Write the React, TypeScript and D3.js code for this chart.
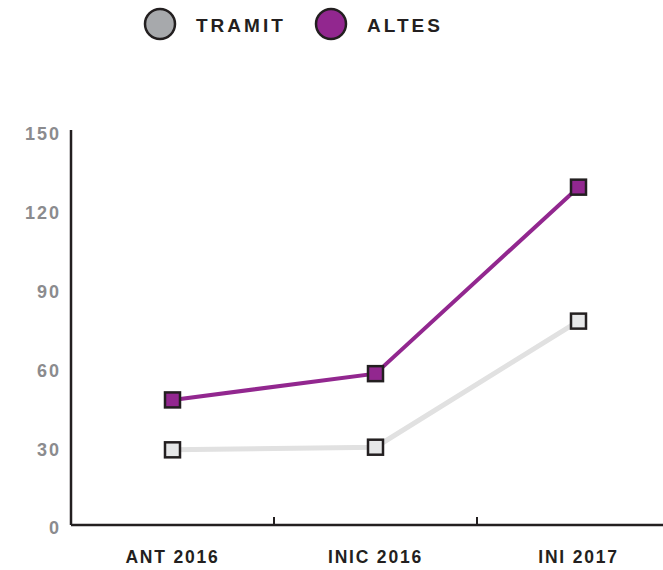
import React from "react";
import * as d3 from "d3";

const categories = ["ANT 2016", "INIC 2016", "INI 2017"];
const tramit = [29, 30, 78];
const altes = [48, 58, 129];
const yTicks = [0, 30, 60, 90, 120, 150];

const W = 663;
const H = 570;
const FONT = "'Liberation Sans', Arial, Helvetica, sans-serif";
const DARK = "#231f20";
const PURPLE = "#92278f";

export default function App() {
  const x = d3.scaleBand().domain(categories).range([71, 680]);
  const y = d3.scaleLinear().domain([0, 150]).range([526, 132]);
  const cx = (c) => (x(c) ?? 0) + x.bandwidth() / 2;

  const line = d3
    .line<number>()
    .x((d, i) => cx(categories[i]))
    .y((d) => y(d));

  const series = [
    { name: "TRAMIT", values: tramit, stroke: "#e1e1e1", fill: "#e6e7e8", width: 5, legendFill: "#a7a9ac" },
    { name: "ALTES", values: altes, stroke: PURPLE, fill: PURPLE, width: 4, legendFill: PURPLE },
  ];
  const legendX = [160, 331];
  const axisY = 525;
  const sq = 15;

  return (
    <svg
      width={W}
      height={H}
      style={{ position: "absolute", left: 0, top: 0, display: "block", background: "#fff" }}
      fontFamily={FONT}
    >
      {/* legend */}
      {series.map((s, i) => (
        <g key={s.name}>
          <circle cx={legendX[i]} cy={24} r={15} fill={s.legendFill} stroke={DARK} strokeWidth={2.5} />
          <text
            x={legendX[i] + 36}
            y={25}
            dy="0.36em"
            fontSize={19}
            fontWeight="bold"
            letterSpacing={3}
            fill={DARK}
          >
            {s.name}
          </text>
        </g>
      ))}

      {/* y axis */}
      <line x1={71} x2={71} y1={130} y2={axisY} stroke={DARK} strokeWidth={2.5} />
      {yTicks.map((t) => (
        <text
          key={t}
          x={61}
          y={y(t) + 2}
          dy="0.36em"
          textAnchor="end"
          fontSize={18}
          fontWeight="bold"
          letterSpacing={2}
          fill="#8b8b8e"
        >
          {t}
        </text>
      ))}

      {/* x axis */}
      <line x1={71} x2={W} y1={axisY} y2={axisY} stroke={DARK} strokeWidth={2.5} />
      {categories.slice(1).map((c) => (
        <line key={c} x1={x(c)} x2={x(c)} y1={axisY - 8} y2={axisY} stroke={DARK} strokeWidth={2} />
      ))}
      {categories.map((c) => (
        <text
          key={c}
          x={cx(c)}
          y={557}
          dy="0.36em"
          textAnchor="middle"
          fontSize={17.5}
          fontWeight="bold"
          letterSpacing={1.8}
          fill={DARK}
        >
          {c}
        </text>
      ))}

      {/* series */}
      {series.map((s) => (
        <g key={s.name}>
          <path d={line(s.values) ?? ""} fill="none" stroke={s.stroke} strokeWidth={s.width} />
          {s.values.map((v, i) => (
            <rect
              key={i}
              x={cx(categories[i]) - sq / 2}
              y={y(v) - sq / 2}
              width={sq}
              height={sq}
              fill={s.fill}
              stroke={DARK}
              strokeWidth={2.5}
            />
          ))}
        </g>
      ))}
    </svg>
  );
}
